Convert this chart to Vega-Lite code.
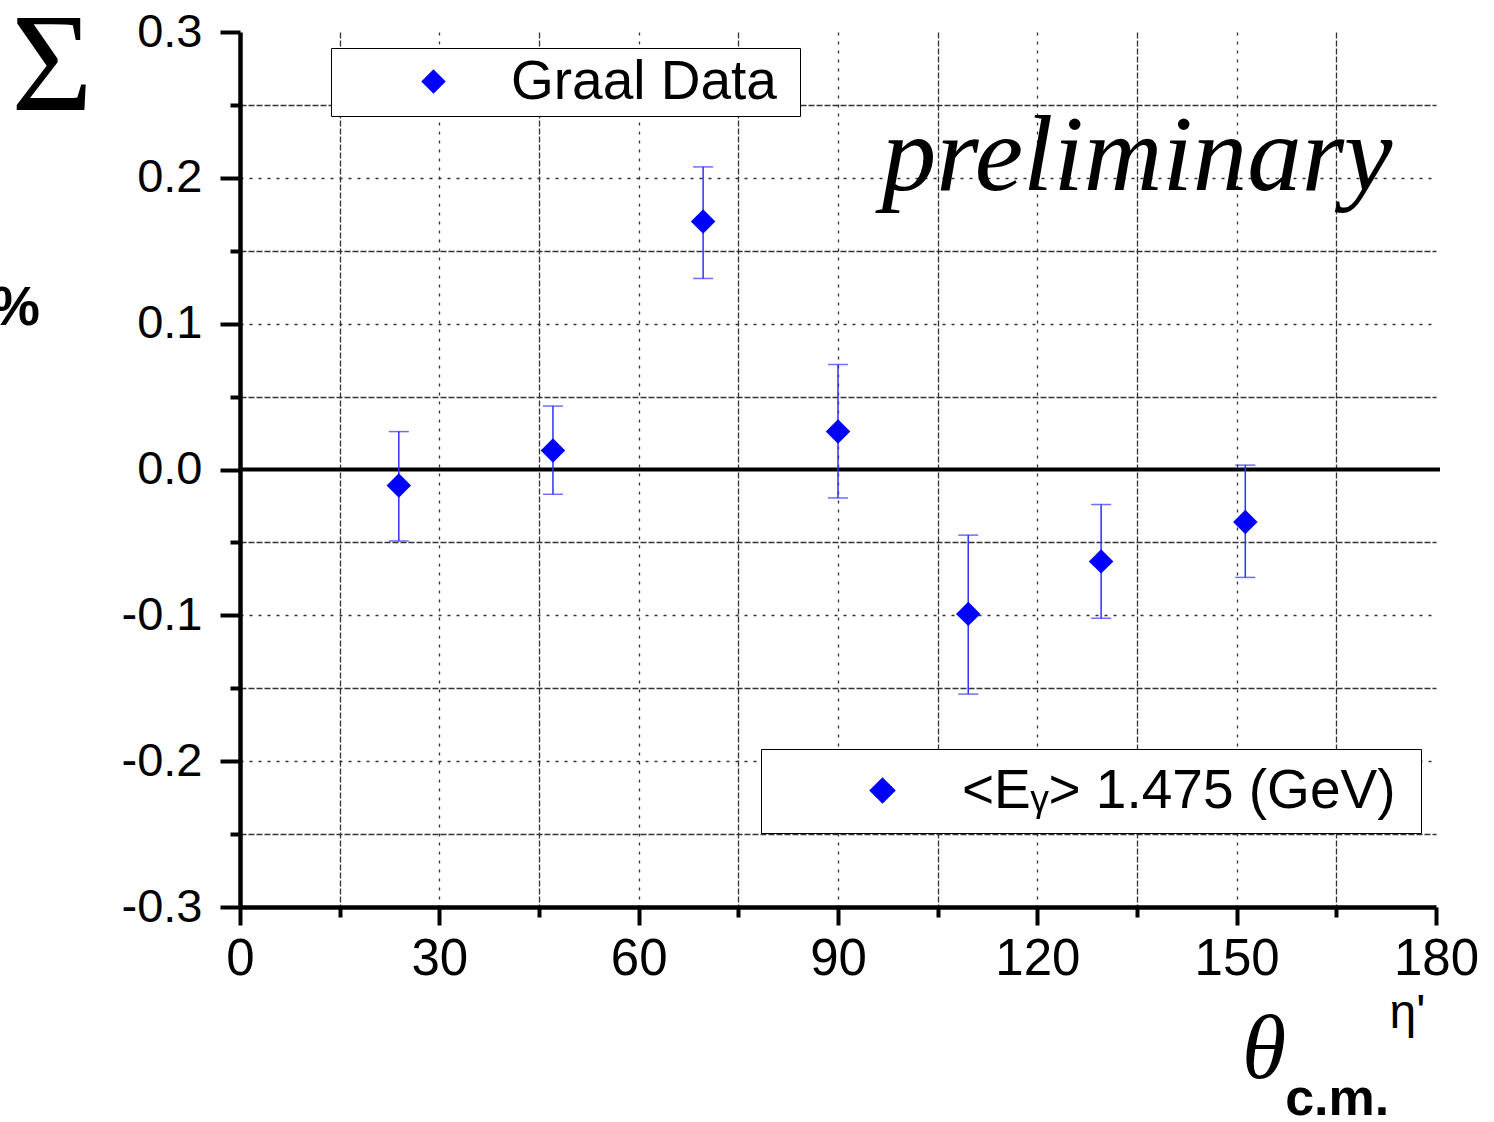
{
  "$schema": "https://vega.github.io/schema/vega-lite/v6.json",
  "width": 1196,
  "height": 875,
  "autosize": {"type": "none"},
  "padding": {"left": 240, "top": 32, "right": 58, "bottom": 215},
  "background": "white",
  "config": {
    "view": {"stroke": null},
    "font": "Liberation Sans"
  },
  "layer": [
    {
      "data": {"values": [{"z": 0}]},
      "mark": {"type": "rule", "stroke": "black", "strokeWidth": 4},
      "encoding": {
        "y": {"datum": 0, "type": "quantitative", "scale": {"domain": [-0.3, 0.3], "nice": false, "zero": false},
          "axis": {
            "values": [-0.3, -0.25, -0.2, -0.15, -0.1, -0.05, 0, 0.05, 0.1, 0.15, 0.2, 0.25, 0.3],
            "title": null,
            "labelExpr": "abs(round(datum.value*100)) % 10 === 0 ? replace(format(datum.value, '.1f'), '\u2212', '-') : ''",
            "labelFont": "Liberation Sans",
            "labelFontSize": 47,
            "labelColor": "black",
            "labelPadding": 18,
            "labelBaseline": "middle",
            "domainColor": "black",
            "domainWidth": 4.5,
            "tickColor": "black",
            "tickWidth": 4,
            "tickSize": {"condition": {"test": "abs(round(datum.value*100)) % 10 === 0", "value": 20}, "value": 10},
            "grid": true,
            "gridColor": "#333333",
            "gridWidth": 1.3,
            "gridDash": {"condition": {"test": "abs(round(datum.value*100)) % 10 === 0", "value": [3, 6]}, "value": [6, 2]},
            "gridOpacity": {"condition": {"test": "abs(datum.value) > 0.29 || abs(datum.value) < 0.001", "value": 0}, "value": 1},
            "labelBound": false,
            "labelFlush": false,
            "labelOverlap": false
          }
        },
        "x": {"datum": 0, "type": "quantitative", "scale": {"domain": [0, 180], "nice": false, "zero": false}},
        "x2": {"datum": 180.6}
      }
    },
    {
      "data": {"values": [{"z": 0}]},
      "mark": {"type": "rule", "opacity": 0},
      "encoding": {
        "x": {"datum": 0, "type": "quantitative",
          "axis": {
            "values": [0, 15, 30, 45, 60, 75, 90, 105, 120, 135, 150, 165, 180],
            "title": null,
            "labelExpr": "datum.value % 30 === 0 ? datum.label : ''",
            "labelFont": "Liberation Sans",
            "labelFontSize": 51,
            "labelColor": "black",
            "labelPadding": 9,
            "domainColor": "black",
            "domainWidth": 4.5,
            "tickColor": "black",
            "tickWidth": 4,
            "tickSize": {"condition": {"test": "datum.value % 30 === 0", "value": 18}, "value": 10},
            "grid": true,
            "gridColor": "#333333",
            "gridWidth": 1.3,
            "gridDash": {"condition": {"test": "datum.value % 30 === 0", "value": [3, 6]}, "value": [6, 2]},
            "gridOpacity": {"condition": {"test": "datum.value === 0 || datum.value === 180", "value": 0}, "value": 1},
            "labelBound": false,
            "labelFlush": false,
            "labelOverlap": false
          }
        },
        "y": {"datum": 0, "type": "quantitative"}
      }
    },
    {
      "data": {"name": "pts", "values": [
        {"theta": 23.9, "sigma": -0.011, "hi": 0.026, "lo": -0.049, "series": "Graal Data", "energy": "<Eᵧ> 1.475 (GeV)"},
        {"theta": 47.1, "sigma": 0.013, "hi": 0.0435, "lo": -0.017, "series": "Graal Data", "energy": "<Eᵧ> 1.475 (GeV)"},
        {"theta": 69.7, "sigma": 0.170, "hi": 0.2075, "lo": 0.131, "series": "Graal Data", "energy": "<Eᵧ> 1.475 (GeV)"},
        {"theta": 90.0, "sigma": 0.026, "hi": 0.072, "lo": -0.0195, "series": "Graal Data", "energy": "<Eᵧ> 1.475 (GeV)"},
        {"theta": 109.6, "sigma": -0.099, "hi": -0.045, "lo": -0.154, "series": "Graal Data", "energy": "<Eᵧ> 1.475 (GeV)"},
        {"theta": 129.6, "sigma": -0.063, "hi": -0.024, "lo": -0.102, "series": "Graal Data", "energy": "<Eᵧ> 1.475 (GeV)"},
        {"theta": 151.3, "sigma": -0.036, "hi": 0.003, "lo": -0.074, "series": "Graal Data", "energy": "<Eᵧ> 1.475 (GeV)"}
      ]},
      "layer": [
        {
          "mark": {"type": "rule", "stroke": "#3030ff", "strokeWidth": 1.5},
          "encoding": {
            "x": {"field": "theta", "type": "quantitative"},
            "y": {"field": "lo", "type": "quantitative"},
            "y2": {"field": "hi"}
          }
        },
        {
          "mark": {"type": "tick", "orient": "horizontal", "color": "#3030ff", "thickness": 1.5, "size": 20},
          "encoding": {
            "x": {"field": "theta", "type": "quantitative"},
            "y": {"field": "lo", "type": "quantitative"}
          }
        },
        {
          "mark": {"type": "tick", "orient": "horizontal", "color": "#3030ff", "thickness": 1.5, "size": 20},
          "encoding": {
            "x": {"field": "theta", "type": "quantitative"},
            "y": {"field": "hi", "type": "quantitative"}
          }
        },
        {
          "mark": {"type": "point", "filled": true, "size": 600, "opacity": 1},
          "encoding": {
            "x": {"field": "theta", "type": "quantitative"},
            "y": {"field": "sigma", "type": "quantitative"},
            "color": {"field": "series", "type": "nominal", "scale": {"range": ["#0000ff"]},
              "legend": {
                "title": "i", "titleOrient": "right", "titleOpacity": 0, "titleFontSize": 10, "titlePadding": 14,
                "orient": "none", "legendX": 91, "legendY": 16,
                "padding": 6, "fillColor": "white", "strokeColor": "black",
                "symbolType": "diamond", "symbolSize": 600, "symbolOffset": 69,
                "labelOffset": 50, "labelFontSize": 55, "labelFont": "Liberation Sans",
                "labelColor": "black", "labelLimit": 0,
                "encode": {"legend": {"update": {"strokeWidth": {"value": 2.5}}}}
              }
            },
            "shape": {"field": "energy", "type": "nominal", "scale": {"range": ["diamond"]},
              "legend": {
                "title": "i", "titleOrient": "right", "titleOpacity": 0, "titleFontSize": 10, "titlePadding": 9,
                "orient": "none", "legendX": 521, "legendY": 717,
                "padding": 14, "fillColor": "white", "strokeColor": "black",
                "symbolFillColor": "#0000ff", "symbolStrokeColor": "#0000ff", "symbolSize": 600, "symbolOffset": 80,
                "labelOffset": 52, "labelFontSize": 55, "labelFont": "Liberation Sans",
                "labelColor": "black", "labelLimit": 0,
                "encode": {"legend": {"update": {"strokeWidth": {"value": 2.5}}}}
              }
            }
          }
        }
      ]
    },
    {
      "data": {"values": [{"t": "preliminary"}]},
      "mark": {"type": "text", "font": "Liberation Serif", "fontStyle": "italic", "fontSize": 109, "align": "left", "baseline": "alphabetic", "color": "black"},
      "encoding": {"text": {"field": "t"}, "x": {"datum": 96.6}, "y": {"datum": 0.1917}}
    },
    {
      "data": {"values": [{"t": "Σ"}]},
      "mark": {"type": "text", "font": "Liberation Serif", "fontSize": 140, "align": "center", "baseline": "alphabetic", "color": "black"},
      "encoding": {"text": {"field": "t"}, "x": {"datum": -28.3}, "y": {"datum": 0.2465}}
    },
    {
      "data": {"values": [{"t": "%"}]},
      "mark": {"type": "text", "font": "Liberation Sans", "fontWeight": "bold", "fontSize": 55, "align": "right", "baseline": "alphabetic", "color": "black"},
      "encoding": {"text": {"field": "t"}, "x": {"datum": -30.1}, "y": {"datum": 0.0991}}
    },
    {
      "data": {"values": [{"t": "θ"}]},
      "mark": {"type": "text", "font": "Liberation Serif", "fontStyle": "italic", "fontSize": 90, "align": "left", "baseline": "alphabetic", "color": "black"},
      "encoding": {"text": {"field": "t"}, "x": {"datum": 150.8}, "y": {"datum": -0.4173}}
    },
    {
      "data": {"values": [{"t": "c.m."}]},
      "mark": {"type": "text", "font": "Liberation Sans", "fontWeight": "bold", "fontSize": 52, "align": "left", "baseline": "alphabetic", "color": "black"},
      "encoding": {"text": {"field": "t"}, "x": {"datum": 157.3}, "y": {"datum": -0.4426}}
    },
    {
      "data": {"values": [{"t": "η'"}]},
      "mark": {"type": "text", "font": "Liberation Sans", "fontSize": 48, "align": "left", "baseline": "alphabetic", "color": "black"},
      "encoding": {"text": {"field": "t"}, "x": {"datum": 173.0}, "y": {"datum": -0.383}}
    }
  ]
}
